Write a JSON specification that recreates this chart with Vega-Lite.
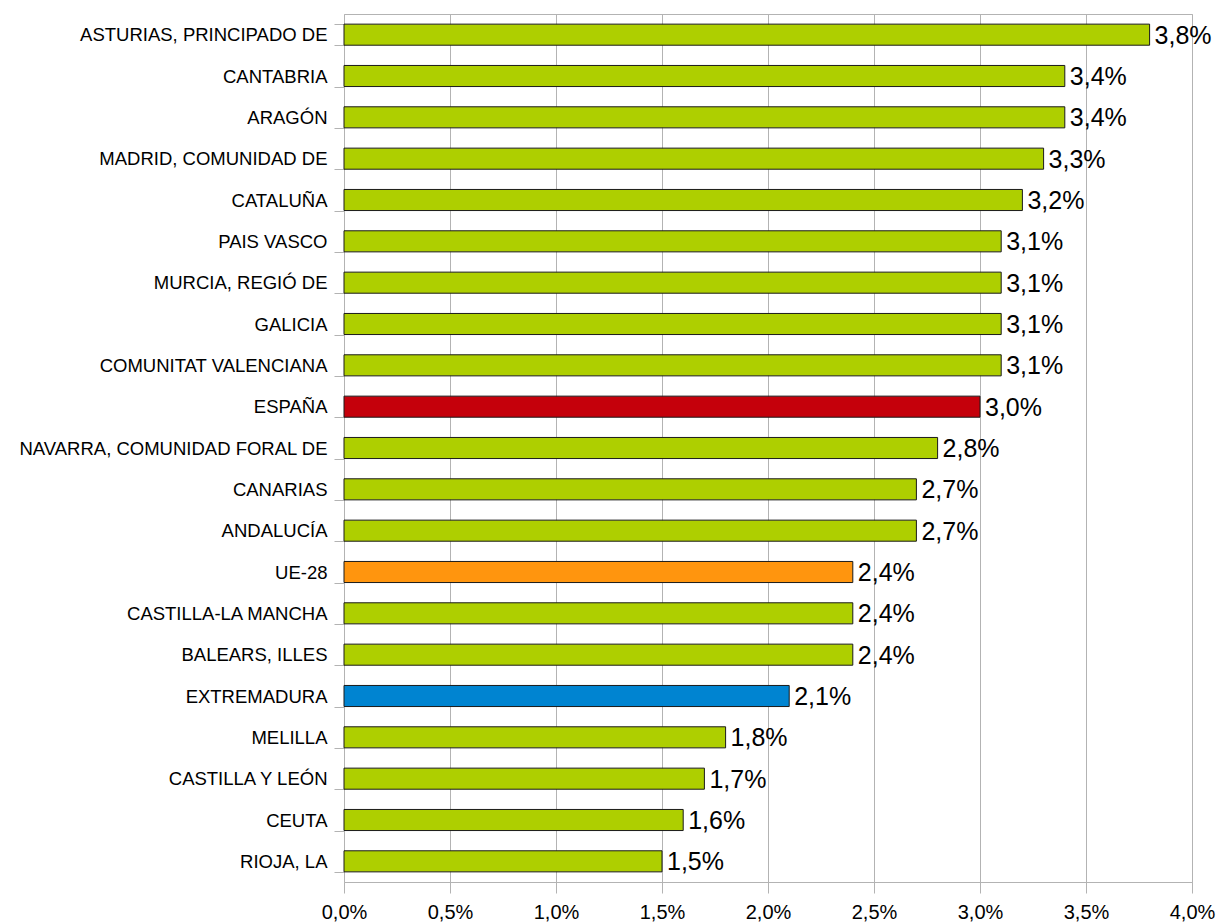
{
  "$schema": "https://vega.github.io/schema/vega-lite/v6.json",
  "width": 848,
  "height": 868,
  "autosize": {"type": "none"},
  "padding": {"left": 344, "top": 14, "right": 24, "bottom": 42},
  "background": "white",
  "config": {
    "locale": {"number": {"decimal": ",", "thousands": ".", "grouping": [3], "currency": ["", " €"]}},
    "view": {"stroke": "#b3b3b3", "strokeWidth": 1},
    "font": "Liberation Sans"
  },
  "data": {
    "values": [
      {"region": "ASTURIAS, PRINCIPADO DE", "value": 0.038, "group": "CCAA"},
      {"region": "CANTABRIA", "value": 0.034, "group": "CCAA"},
      {"region": "ARAGÓN", "value": 0.034, "group": "CCAA"},
      {"region": "MADRID, COMUNIDAD DE", "value": 0.033, "group": "CCAA"},
      {"region": "CATALUÑA", "value": 0.032, "group": "CCAA"},
      {"region": "PAIS VASCO", "value": 0.031, "group": "CCAA"},
      {"region": "MURCIA, REGIÓ DE", "value": 0.031, "group": "CCAA"},
      {"region": "GALICIA", "value": 0.031, "group": "CCAA"},
      {"region": "COMUNITAT VALENCIANA", "value": 0.031, "group": "CCAA"},
      {"region": "ESPAÑA", "value": 0.030, "group": "España"},
      {"region": "NAVARRA, COMUNIDAD FORAL DE", "value": 0.028, "group": "CCAA"},
      {"region": "CANARIAS", "value": 0.027, "group": "CCAA"},
      {"region": "ANDALUCÍA", "value": 0.027, "group": "CCAA"},
      {"region": "UE-28", "value": 0.024, "group": "UE"},
      {"region": "CASTILLA-LA MANCHA", "value": 0.024, "group": "CCAA"},
      {"region": "BALEARS, ILLES", "value": 0.024, "group": "CCAA"},
      {"region": "EXTREMADURA", "value": 0.021, "group": "Extremadura"},
      {"region": "MELILLA", "value": 0.018, "group": "CCAA"},
      {"region": "CASTILLA Y LEÓN", "value": 0.017, "group": "CCAA"},
      {"region": "CEUTA", "value": 0.016, "group": "CCAA"},
      {"region": "RIOJA, LA", "value": 0.015, "group": "CCAA"}
    ]
  },
  "encoding": {
    "y": {
      "field": "region",
      "type": "nominal",
      "sort": null,
      "scale": {"paddingInner": 0.49, "paddingOuter": 0.245},
      "axis": {
        "title": null,
        "domain": false,
        "tickBand": "extent",
        "tickColor": "#b3b3b3",
        "tickSize": 10,
        "labelFontSize": 18.5,
        "labelColor": "#000000",
        "labelPadding": 7,
        "labelLimit": 400,
        "labelFont": "Liberation Sans"
      }
    },
    "x": {
      "field": "value",
      "type": "quantitative",
      "scale": {"domain": [0, 0.04], "nice": false},
      "axis": {
        "title": null,
        "format": ".1%",
        "values": [0, 0.005, 0.01, 0.015, 0.02, 0.025, 0.03, 0.035, 0.04],
        "domain": false,
        "grid": true,
        "gridColor": "#b3b3b3",
        "gridOpacity": 1,
        "tickColor": "#b3b3b3",
        "tickSize": 11,
        "labelFontSize": 20,
        "labelFlush": false,
        "labelColor": "#000000",
        "labelPadding": 9,
        "labelFont": "Liberation Sans"
      }
    }
  },
  "layer": [
    {
      "mark": {"type": "bar", "stroke": "#1a1a1a", "strokeWidth": 1},
      "encoding": {
        "color": {
          "field": "group",
          "type": "nominal",
          "scale": {"domain": ["CCAA", "España", "UE", "Extremadura"], "range": ["#aecf00", "#c5000b", "#ff950e", "#0084d1"]},
          "legend": null
        }
      }
    },
    {
      "mark": {"type": "text", "align": "left", "baseline": "middle", "dx": 5, "dy": 1, "fontSize": 25, "font": "Liberation Sans", "color": "#000000"},
      "encoding": {
        "text": {"field": "value", "type": "quantitative", "format": ".1%"}
      }
    }
  ]
}
